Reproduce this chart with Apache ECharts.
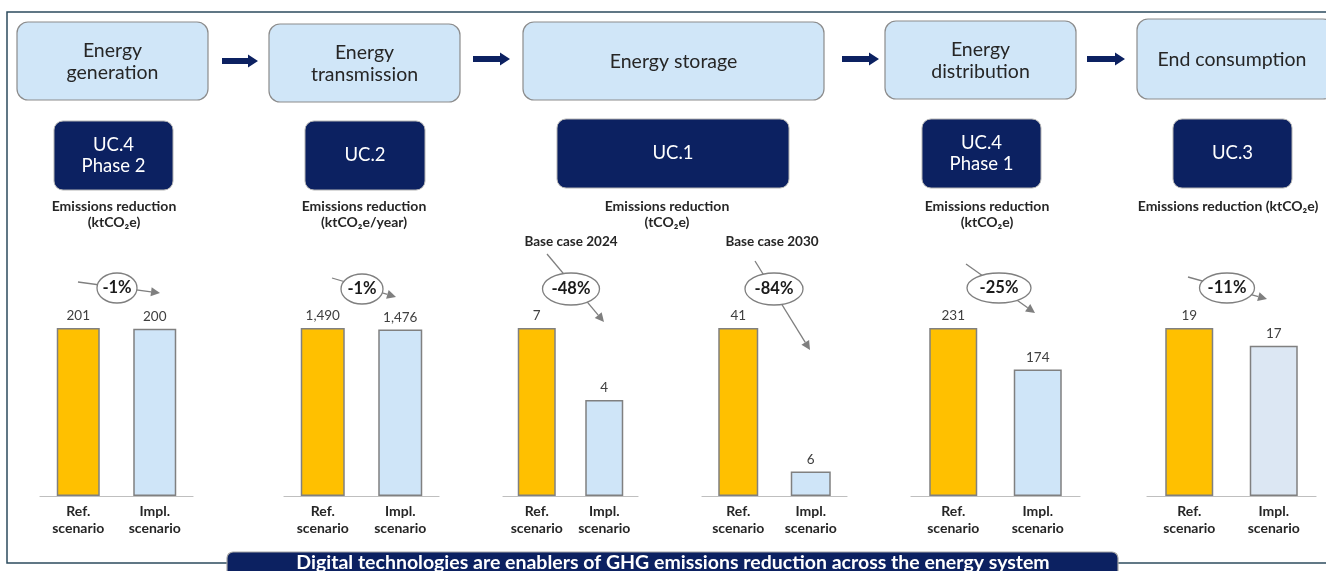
<!DOCTYPE html>
<html>
<head>
<meta charset="utf-8">
<title>Digital technologies and GHG emissions reduction</title>
<script src="https://cdn.jsdelivr.net/npm/echarts@6/dist/echarts.min.js"></script>
<style>
  html, body { margin: 0; padding: 0; background: #ffffff; }
  #chart { width: 1326px; height: 571px; }
</style>
</head>
<body>
<div id="chart"></div>
<script>
// ---- Data ----
const stages = ['Energy\ngeneration', 'Energy\ntransmission', 'Energy storage', 'Energy\ndistribution', 'End consumption'];
const useCases = ['UC.4\nPhase 2', 'UC.2', 'UC.1', 'UC.4\nPhase 1', 'UC.3'];
const unitLabels = [
  'Emissions reduction\n(ktCO₂e)',
  'Emissions reduction\n(ktCO₂e/year)',
  'Emissions reduction\n(tCO₂e)',
  'Emissions reduction\n(ktCO₂e)',
  'Emissions reduction (ktCO₂e)'
];
const scenarios = ['Ref.\nscenario', 'Impl.\nscenario'];
const refValues = [201, 1490, 7, 41, 231, 19];
const implValues = [200, 1476, 4, 6, 174, 17];
const changeLabels = ['-1%', '-1%', '-48%', '-84%', '-25%', '-11%'];
const caseLabels = ['', '', 'Base case 2024', 'Base case 2030', '', ''];
const bannerText = 'Digital technologies are enablers of GHG emissions reduction across the energy system';

// ---- Layout ----
const FONT = 'Lato, "Noto Sans", "DejaVu Sans", sans-serif';
const NAVY = '#0c2161';
const TEXT_DARK = '#262626';
const GREY_LINE = '#7f7f7f';

// stage boxes [x, y, w, h]
const stageBoxes = [[17, 22, 191, 78], [269, 24, 191, 78], [523, 22, 301, 78], [885, 21, 191, 78], [1137, 19, 197, 80]];
const stageTextX = [112.5, 364.5, 673.5, 980.5, 1232];
// flow arrows [x0, x1, yc]
const flowArrows = [[222, 258, 61], [473, 510, 59], [842, 879, 59], [1087, 1125, 59]];
// use-case boxes [x, y, w, h]
const ucBoxes = [[54, 121, 119, 69], [305, 121, 120, 69], [557, 119, 232, 69], [922, 119, 119, 69], [1173, 119, 119, 69]];
const unitTextX = [114, 364, 667, 987, 1228];
// bar chart grids [left, right]
const gridSpans = [[40, 193], [284, 439], [503, 638], [702, 847], [911, 1080], [1147, 1316]];
const barWidths = [43, 44, 38, 40, 48, 48];
const caseLabelX = [0, 0, 571, 772, 0, 0];
const implColors = ['#cfe5f8', '#cfe5f8', '#cfe5f8', '#cfe5f8', '#cfe5f8', '#dce7f3'];
// change annotations: ellipse [cx, cy, rx, ry], arrow [x0, y0, x1, y1]
const changeEllipses = [[117, 288, 20, 15], [362, 289, 21, 15], [571, 289, 28.5, 16], [774, 289, 29, 16], [999, 288, 32, 15], [1227, 288, 27.5, 15]];
const changeArrows = [[78, 282, 160, 293], [332, 278, 396, 297], [547, 254, 604, 322], [755, 261, 810, 350], [966, 264, 1035, 313], [1188, 277, 1267, 299]];

const GRID_TOP = 328;
const GRID_BOTTOM = 75;
const W = 1326;

const chart = echarts.init(document.getElementById('chart'), null, { renderer: 'canvas' });

// ---- Bar charts ----
const grids = [], xAxes = [], yAxes = [], series = [];
gridSpans.forEach(function (span, i) {
  grids.push({ left: span[0], width: span[1] - span[0], top: GRID_TOP, bottom: GRID_BOTTOM, containLabel: false });
  xAxes.push({
    type: 'category', gridIndex: i, data: scenarios,
    axisLine: { show: true, lineStyle: { color: '#bfbfbf', width: 1.2 } },
    axisTick: { show: false },
    axisLabel: { show: true, interval: 0, margin: 7, color: TEXT_DARK, fontFamily: FONT, fontWeight: 'bold', fontSize: 14, lineHeight: 17 }
  });
  yAxes.push({ type: 'value', gridIndex: i, min: 0, max: refValues[i], show: false, splitLine: { show: false } });
  series.push({
    type: 'bar', xAxisIndex: i, yAxisIndex: i, barWidth: barWidths[i],
    silent: true, animation: false,
    data: [
      { value: refValues[i], itemStyle: { color: '#ffc000' } },
      { value: implValues[i], itemStyle: { color: implColors[i] } }
    ],
    itemStyle: { borderColor: '#808080', borderWidth: 1.5 },
    label: {
      show: true, position: 'top', distance: 5, color: '#404040', fontFamily: FONT, fontSize: 13.5,
      formatter: function (p) { return p.value.toLocaleString('en-US'); }
    }
  });
});

// ---- Diagram elements ----
const graphics = [];

// outer frame
graphics.push({ type: 'polyline', shape: { points: [[228, 563], [7, 563], [7, 12], [W, 12]] }, style: { stroke: '#2c4b5e', lineWidth: 1.5, fill: null }, z: 1 });
graphics.push({ type: 'line', shape: { x1: 1118, y1: 563, x2: W, y2: 563 }, style: { stroke: '#2c4b5e', lineWidth: 1.5 }, z: 1 });

// stage boxes
stages.forEach(function (s, i) {
  const b = stageBoxes[i];
  graphics.push({ type: 'rect', shape: { x: b[0], y: b[1], width: b[2], height: b[3], r: 11 }, style: { fill: '#d0e6f8', stroke: '#8c8c8c', lineWidth: 1.2 }, z: 2 });
  graphics.push({ type: 'text', x: stageTextX[i], y: b[1] + b[3] / 2 + 0.5, style: { text: s, fill: TEXT_DARK, font: '19.5px ' + FONT, textAlign: 'center', textVerticalAlign: 'middle', lineHeight: 22 }, z: 3 });
});

// flow arrows
flowArrows.forEach(function (a) {
  const x0 = a[0], x1 = a[1], y = a[2], head = 10;
  graphics.push({
    type: 'polygon',
    shape: { points: [[x0, y - 3], [x1 - head, y - 3], [x1 - head, y - 6.5], [x1, y], [x1 - head, y + 6.5], [x1 - head, y + 3], [x0, y + 3]] },
    style: { fill: NAVY }, z: 2
  });
});

// use-case boxes
useCases.forEach(function (u, i) {
  const b = ucBoxes[i];
  graphics.push({ type: 'rect', shape: { x: b[0], y: b[1], width: b[2], height: b[3], r: 9 }, style: { fill: NAVY, stroke: '#b4b4b4', lineWidth: 1 }, z: 2 });
  graphics.push({ type: 'text', x: b[0] + b[2] / 2, y: b[1] + b[3] / 2, style: { text: u, fill: '#ffffff', font: '18.5px ' + FONT, textAlign: 'center', textVerticalAlign: 'middle', lineHeight: 21 }, z: 3 });
});

// unit captions
unitLabels.forEach(function (t, i) {
  const lines = t.split('\n').length;
  graphics.push({ type: 'text', x: unitTextX[i], y: lines > 1 ? 214 : 206, style: { text: t, fill: TEXT_DARK, font: 'bold 14px ' + FONT, textAlign: 'center', textVerticalAlign: 'middle', lineHeight: 16 }, z: 3 });
});

// base case captions
caseLabels.forEach(function (t, i) {
  if (!t) return;
  graphics.push({ type: 'text', x: caseLabelX[i], y: 242, style: { text: t, fill: TEXT_DARK, font: 'bold 13.5px ' + FONT, textAlign: 'center', textVerticalAlign: 'middle' }, z: 3 });
});

// change annotations
changeLabels.forEach(function (t, i) {
  const a = changeArrows[i], e = changeEllipses[i];
  const dx = a[2] - a[0], dy = a[3] - a[1];
  const len = Math.sqrt(dx * dx + dy * dy);
  const ux = dx / len, uy = dy / len, hl = 9, hw = 4.5;
  const bx = a[2] - ux * hl, by = a[3] - uy * hl;
  graphics.push({ type: 'line', shape: { x1: a[0], y1: a[1], x2: bx, y2: by }, style: { stroke: GREY_LINE, lineWidth: 1.3 }, z: 4 });
  graphics.push({ type: 'polygon', shape: { points: [[a[2], a[3]], [bx - uy * hw, by + ux * hw], [bx + uy * hw, by - ux * hw]] }, style: { fill: GREY_LINE }, z: 4 });
  graphics.push({ type: 'ellipse', shape: { cx: e[0], cy: e[1], rx: e[2], ry: e[3] }, style: { fill: '#ffffff', stroke: GREY_LINE, lineWidth: 1.3 }, z: 5 });
  graphics.push({ type: 'text', x: e[0], y: e[1], style: { text: t, fill: '#1a1a1a', font: 'bold 16.5px ' + FONT, textAlign: 'center', textVerticalAlign: 'middle' }, z: 6 });
});

// bottom banner
graphics.push({ type: 'rect', shape: { x: 227, y: 552, width: 891, height: 40, r: 6 }, style: { fill: NAVY, stroke: '#a6a6a6', lineWidth: 1.2 }, z: 7 });
graphics.push({ type: 'text', x: 673, y: 563, style: { text: bannerText, fill: '#ffffff', font: 'bold 19.5px ' + FONT, textAlign: 'center', textVerticalAlign: 'middle' }, z: 8 });

chart.setOption({
  backgroundColor: '#ffffff',
  animation: false,
  grid: grids,
  xAxis: xAxes,
  yAxis: yAxes,
  series: series,
  graphic: { elements: graphics }
});
</script>
</body>
</html>
